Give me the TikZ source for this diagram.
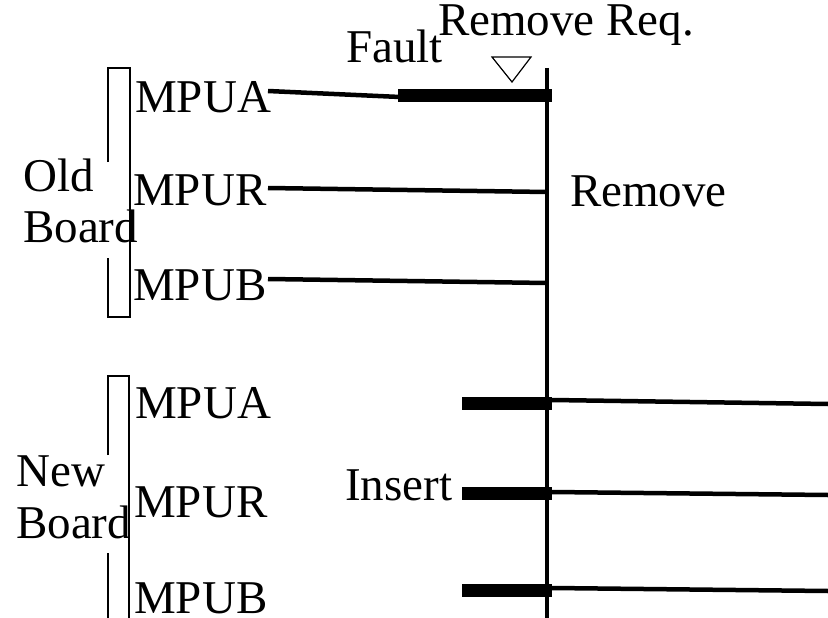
\documentclass[tikz,border=0pt]{standalone}
\usepackage{fontspec}
\setmainfont{Liberation Serif}
\begin{document}
\begin{tikzpicture}[x=1pt,y=-1pt,
  lbl/.style={anchor=base west, inner sep=0pt, font=\fontsize{47}{52}\selectfont},
  thinln/.style={line width=4.5pt},
  barln/.style={line width=13pt},
  brk/.style={line width=1.5pt},
  tri/.style={line width=1.2pt, line join=miter}]
\useasboundingbox (0,0) rectangle (828,618);
% labels
\node[lbl] (oa) at (135,113) {MPUA};
\node[lbl] (or) at (133,205) {MPUR};
\node[lbl] (ob) at (133,300) {MPUB};
\node[lbl] (na) at (135,418) {MPUA};
\node[lbl] (nr) at (134,517) {MPUR};
\node[lbl] (nb) at (134,613) {MPUB};
\node[lbl] (old1) at (23,191) {Old};
\node[lbl] (old2) at (23,242) {Board};
\node[lbl] (new1) at (16,486) {New};
\node[lbl] (new2) at (16,538) {Board};
\node[lbl] (fault) at (346,63) {Fault};
\node[lbl] (req) at (438,36) {Remove Req.};
\node[lbl] (rem) at (570,206) {Remove};
\node[lbl] (ins) at (345,500) {Insert};
% coordinates
\coordinate (vtop) at (547,68);
\coordinate (vbot) at (547,618);
\coordinate (oa1) at (268,91);
\coordinate (oa2) at (400,97);
\coordinate (oab1) at (398,95.5);
\coordinate (oab2) at (552,95.5);
\coordinate (or1) at (268,188);
\coordinate (or2) at (547,192);
\coordinate (ob1) at (268,279);
\coordinate (ob2) at (547,283);
\coordinate (nab1) at (462,403);
\coordinate (nab2) at (552,403);
\coordinate (nrb1) at (462,493);
\coordinate (nrb2) at (552,493);
\coordinate (nbb1) at (462,590);
\coordinate (nbb2) at (552,590);
\coordinate (na1) at (552,400);
\coordinate (na2) at (828,404);
\coordinate (nr1) at (552,492);
\coordinate (nr2) at (828,495);
\coordinate (nb1) at (552,588);
\coordinate (nb2) at (828,591);
% brackets
\draw[brk] (108,162) -- (108,68) -- (130,68) -- (130,317) -- (108,317) -- (108,258);
\draw[brk] (108,455) -- (108,376) -- (129,376) -- (129,618);
\draw[brk] (108,553) -- (108,618);
% time line
\draw[thinln] (vtop) -- (vbot);
% old board lines
\draw[thinln] (oa1) -- (oa2);
\draw[barln] (oab1) -- (oab2);
\draw[thinln] (or1) -- (or2);
\draw[thinln] (ob1) -- (ob2);
% new board lines
\draw[barln] (nab1) -- (nab2);
\draw[barln] (nrb1) -- (nrb2);
\draw[barln] (nbb1) -- (nbb2);
\draw[thinln] (na1) -- (na2);
\draw[thinln] (nr1) -- (nr2);
\draw[thinln] (nb1) -- (nb2);
% remove request marker
\draw[tri] (492,57) -- (531,57) -- (512,82) -- cycle;
\end{tikzpicture}
\end{document}
